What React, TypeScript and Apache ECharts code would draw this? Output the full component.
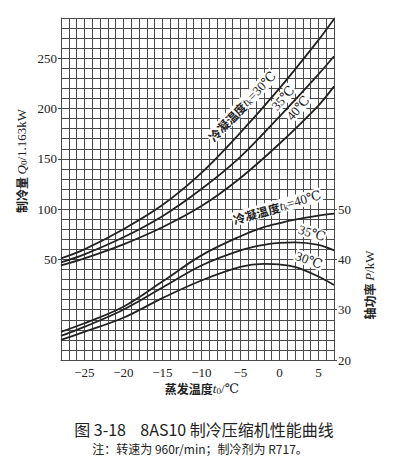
import React, { useEffect, useRef } from "react";
import * as echarts from "echarts";

// Evaporating temperature t0 (°C)
const tQ = [-28, -25, -20, -15, -10, -5, 0, 5, 7];
// Refrigerating capacity Q0 (×1.163 kW) for tk = 30, 35, 40 °C
const q30 = [51, 60, 80, 104, 136, 176, 220, 268, 289];
const q35 = [47, 55, 72, 93, 120, 152, 192, 234, 252];
const q40 = [44, 51, 65, 82, 103, 131, 165, 203, 222];

// Shaft power P (kW)
const tP = [-28, -25, -20, -15, -10, -5, -2, 0, 2, 5, 7];
const p40 = [25.6, 27.3, 30.6, 35.6, 40.8, 44.6, 46.4, 47.2, 47.9, 48.7, 49.1];
const p35 = [24.8, 26.6, 30.0, 34.4, 38.8, 41.8, 42.9, 43.3, 43.4, 42.9, 41.8];
const p30 = [24.0, 25.6, 28.4, 32.3, 35.8, 38.5, 39.1, 39.0, 38.5, 36.6, 34.9];

const xTickLabels = [-25, -20, -15, -10, -5, 0, 5];
const qTickLabels = [50, 100, 150, 200, 250];
const pTickLabels = [20, 30, 40, 50];

const SERIF = "'Liberation Serif', 'DejaVu Serif', serif";
const CJK = "'Noto Sans CJK SC', sans-serif";
const INK = "#222";
const GRIDC = "#4a4a4a";

const zip = (xs: number[], ys: number[]) => xs.map((x, i) => [x, ys[i]]);

export default function App() {
  const ref = useRef<HTMLDivElement>(null);
  useEffect(() => {
    document.body.style.margin = "0";
    if (!ref.current) return;
    const chart = echarts.init(ref.current, null, { renderer: "svg" });
    const grid = { left: 61, right: 61, top: 18, bottom: 112 };
    const lineStyle = { color: INK, width: 1.8 };
    const mkLine = (data: number[][], yIdx: number) => ({
      type: "line",
      data,
      xAxisIndex: 0,
      yAxisIndex: yIdx,
      smooth: 0.35,
      symbol: "none",
      lineStyle,
      silent: true,
      z: 3,
    });
    const txt = (x: number, y: number, text: string, rotation = 0, fontSize = 12, bg = false) => ({
      type: "text",
      x,
      y,
      rotation,
      z: 1,
      style: {
        text,
        align: "center",
        verticalAlign: "middle",
        fill: INK,
        fontFamily: CJK,
        fontSize,
        backgroundColor: bg ? "#fff" : undefined,
        padding: bg ? [0, 1, 0, 1] : 0,
        rich: {
          c: { fontFamily: CJK, fontSize, fontWeight: "bold", color: INK },
          i: { fontFamily: SERIF, fontSize: fontSize + 1, fontStyle: "italic", color: INK },
          s: { fontFamily: SERIF, fontSize: fontSize - 3, color: INK, padding: [5, 0, 0, 0] },
          r: { fontFamily: SERIF, fontSize: fontSize + 1, color: INK },
        },
      },
    });
    chart.setOption({
      animation: false,
      backgroundColor: "#fff",
      grid,
      xAxis: [
        {
          type: "value",
          min: -28,
          max: 7,
          interval: 1,
          position: "bottom",
          axisLine: { show: true, onZero: false, lineStyle: { color: GRIDC, width: 1 } },
          axisTick: { show: false },
          axisLabel: { show: false },
          splitLine: { show: true, lineStyle: { color: GRIDC, width: 1 } },
        },
        {
          type: "value",
          min: -28,
          max: 7,
          position: "bottom",
          axisLine: { show: false, onZero: false },
          axisTick: { show: false },
          splitLine: { show: false },
          axisLabel: {
            customValues: xTickLabels,
            margin: 6,
            fontFamily: SERIF,
            fontSize: 13,
            color: INK,
            formatter: (v: number) => (v < 0 ? "\u2212" + Math.abs(v) : String(v)),
          },
        },
      ],
      yAxis: [
        {
          type: "value",
          min: -50,
          max: 290,
          interval: 10,
          position: "left",
          axisLine: { show: true, onZero: false, lineStyle: { color: GRIDC, width: 1 } },
          axisTick: { show: false },
          axisLabel: { show: false },
          splitLine: { show: true, lineStyle: { color: GRIDC, width: 1 } },
        },
        {
          type: "value",
          min: -50,
          max: 290,
          position: "left",
          axisLine: { show: false, onZero: false },
          splitLine: { show: false },
          axisTick: { show: true, customValues: qTickLabels, length: 3, lineStyle: { color: GRIDC } },
          axisLabel: {
            customValues: qTickLabels,
            margin: 4,
            fontFamily: SERIF,
            fontSize: 13,
            color: INK,
          },
        },
        {
          type: "value",
          min: 20,
          max: 88,
          position: "right",
          axisLine: { show: true, onZero: false, lineStyle: { color: GRIDC, width: 1 } },
          splitLine: { show: false },
          axisTick: { show: true, customValues: pTickLabels, length: 3, lineStyle: { color: GRIDC } },
          axisLabel: {
            customValues: pTickLabels,
            margin: 4,
            fontFamily: SERIF,
            fontSize: 13,
            color: INK,
          },
        },
      ],
      series: [
        mkLine(zip(tQ, q30), 0),
        mkLine(zip(tQ, q35), 0),
        mkLine(zip(tQ, q40), 0),
        mkLine(zip(tP, p40), 2),
        mkLine(zip(tP, p35), 2),
        mkLine(zip(tP, p30), 2),
      ],
      graphic: [
        txt(21, 161, "{c|制冷量} {i|Q}{s|0}{r|/1.163kW}", Math.PI / 2, 12),
        txt(369, 285, "{c|轴功率} {i|P}{r|/kW}", Math.PI / 2, 12),
        txt(202, 388, "{c|蒸发温度}{i|t}{s|0}{r|/℃}", 0, 12),
        txt(242, 106, "{c|冷凝温度}{i|t}{s|k}{r|=30℃}", 0.8, 12, true),
        txt(283, 98, "{r|35℃}", 0.85, 12, true),
        txt(298, 108, "{r|40℃}", 0.85, 12, true),
        txt(277, 207, "{c|冷凝温度}{i|t}{s|k}{r|=40℃}", 0.28, 12, true),
        txt(312, 233, "{r|35℃}", -0.3, 12, true),
        txt(309, 260, "{r|30℃}", -0.35, 12, true),
        {
          type: "text",
          x: 204,
          y: 429,
          style: {
            text: "图 3-18    8AS10 制冷压缩机性能曲线",
            align: "center",
            verticalAlign: "middle",
            fill: INK,
            fontFamily: CJK,
            fontSize: 16,
          },
        },
        {
          type: "text",
          x: 200,
          y: 448,
          style: {
            text: "注：转速为 960r/min；制冷剂为 R717。",
            align: "center",
            verticalAlign: "middle",
            fill: INK,
            fontFamily: CJK,
            fontSize: 12,
          },
        },
      ],
    });
    return () => chart.dispose();
  }, []);
  return <div ref={ref} style={{ width: 395, height: 472 }} />;
}
